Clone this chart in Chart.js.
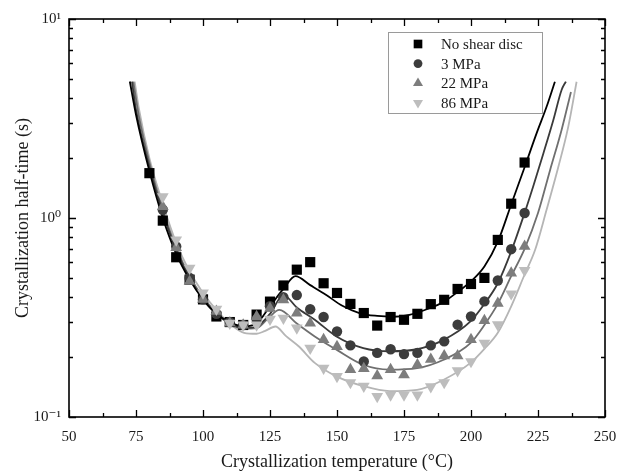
<!DOCTYPE html>
<html><head><meta charset="utf-8">
<script src="https://cdn.jsdelivr.net/npm/chart.js@4/dist/chart.umd.min.js"></script>
<style>html,body{margin:0;padding:0;background:#fff;}#wrap{width:618px;height:473px;position:relative;}</style>
</head><body><div id="wrap"><canvas id="c" width="618" height="473"></canvas></div>
<script>
// ---- data ----
const temps = [80,85,90,95,100,105,110,115,120,125,130,135,140,145,150,155,160,165,170,175,180,185,190,195,200,205,210,215,220];
const noShear = [1.68,0.97,0.635,0.49,0.39,0.32,0.30,0.29,0.327,0.38,0.458,0.55,0.60,0.47,0.42,0.37,0.333,0.288,0.318,0.308,0.33,0.369,0.388,0.44,0.466,0.50,0.776,1.18,1.9];
const mpa3 = [null,1.1,0.72,0.50,0.39,0.33,0.30,0.29,0.31,0.36,0.40,0.41,0.348,0.318,0.269,0.229,0.19,0.21,0.219,0.207,0.21,0.229,0.24,0.291,0.32,0.381,0.485,0.697,1.06];
const mpa22 = [null,1.14,0.71,0.48,0.39,0.34,0.296,0.29,0.32,0.352,0.388,0.333,0.296,0.245,0.226,0.173,0.175,0.161,0.173,0.163,0.183,0.195,0.203,0.203,0.245,0.305,0.373,0.529,0.72];
const mpa86 = [null,1.28,0.776,0.56,0.42,0.348,0.296,0.29,0.29,0.31,0.314,0.28,0.222,0.176,0.16,0.149,0.143,0.127,0.129,0.129,0.129,0.142,0.149,0.171,0.19,0.235,0.291,0.416,0.545];

const fitNoneT = [72.7,75,80,85,90,95,100,105,110,115,120,125,130,134.5,140,146,152,158.6,165,171,177,183.5,190,195,200,205,210,215,220,224.5,228.2,231.3];
const fitNoneY = [4.85,3.3,1.72,1.0,0.66,0.49,0.39,0.33,0.30,0.285,0.295,0.36,0.44,0.51,0.46,0.41,0.362,0.332,0.322,0.319,0.326,0.348,0.38,0.425,0.48,0.57,0.76,1.17,1.8,2.67,3.62,4.84];
const fit3T = [73.5,75,80,85,90,95,100,105,110,115,120,125,130,135,141.7,149.8,159.8,169.6,179.9,189.8,199.8,205,210,215,220,223.2,227,230.7,233.8,235.4];
const fit3Y = [4.85,3.5,1.8,1.06,0.69,0.50,0.39,0.33,0.295,0.28,0.285,0.33,0.41,0.355,0.308,0.254,0.222,0.214,0.219,0.244,0.302,0.37,0.47,0.68,1.06,1.44,2.11,3.1,4.4,4.85];
const fit22T = [74,76,80,85,90,95,100,105,110,115,120,124,128.5,135,141.7,149.8,159.8,169.6,179.9,189.8,199.8,205,210,215,220,225,229.5,233.8,237.3];
const fit22Y = [4.85,3.3,1.9,1.1,0.71,0.51,0.40,0.335,0.295,0.278,0.28,0.31,0.345,0.295,0.254,0.218,0.183,0.173,0.176,0.194,0.235,0.29,0.37,0.51,0.70,1.06,1.74,2.77,4.3];
const fit86T = [74.5,76,80,85,90,95,100,105,110,115.3,120,123,127,131,135.8,141.7,149.8,159.8,169.6,179.9,189.8,199.8,205,210,215,220,223.9,228.2,232.6,236.3,239.4];
const fit86Y = [4.85,3.6,2.0,1.18,0.75,0.54,0.42,0.345,0.295,0.265,0.262,0.27,0.285,0.255,0.226,0.187,0.16,0.143,0.135,0.137,0.154,0.187,0.22,0.265,0.36,0.52,0.69,1.1,1.81,2.88,4.84];

const seriesLabels = ['No shear disc','3 MPa','22 MPa','86 MPa'];
const xTickValues = [50,75,100,125,150,175,200,225,250];
const yTickValues = [0.1,0.2,0.3,0.4,0.5,0.6,0.7,0.8,0.9,1,2,3,4,5,6,7,8,9,10];
const yTickLabels = {0.1:'10\u207B\u00B9', 1:'10\u2070', 10:'10\u00B9'};

// ---- styles ----
const markerColors = ['#000000','#3c3c3c','#7d7d7d','#bdbdbd'];
const lineColors = ['#000000','#3a3a3a','#6f6f6f','#b5b5b5'];
const markerStyles = [
  {pointStyle:'rect', radius:7.2, rotation:0},
  {pointStyle:'circle', radius:5.2, rotation:0},
  {pointStyle:'triangle', radius:6.8, rotation:0},
  {pointStyle:'triangle', radius:6.8, rotation:180}
];

const pts = (xs, ys) => xs.map((x,i)=>({x:x,y:ys[i]})).filter(p=>p.y!==null);
const scatterSets = [noShear, mpa3, mpa22, mpa86];
const fitSets = [[fitNoneT,fitNoneY],[fit3T,fit3Y],[fit22T,fit22Y],[fit86T,fit86Y]];

const datasets = [];
fitSets.forEach((f,i)=>{
  datasets.push({label:seriesLabels[i]+' fit', data:pts(f[0],f[1]), showLine:true, pointRadius:0,
    borderColor:lineColors[i], borderWidth:1.8, cubicInterpolationMode:'monotone', fill:false, order:20+i});
});
scatterSets.forEach((s,i)=>{
  const m = markerStyles[i];
  datasets.push({label:seriesLabels[i], data:pts(temps,s), showLine:false,
    pointStyle:m.pointStyle, pointRadius:m.radius, pointRotation:m.rotation,
    backgroundColor:markerColors[i], borderColor:markerColors[i], borderWidth:0, order:4-i});
});

function drawMarker(ctx, style, r, rot, x, y){
  ctx.beginPath();
  if(style==='rect'){ const s=Math.SQRT1_2*r; ctx.rect(x-s,y-s,2*s,2*s); }
  else if(style==='circle'){ ctx.arc(x,y,r,0,Math.PI*2); }
  else { let a=rot*Math.PI/180; for(let k=0;k<3;k++){ const px=x+Math.sin(a)*r, py=y-Math.cos(a)*r; if(k===0)ctx.moveTo(px,py); else ctx.lineTo(px,py); a+=2*Math.PI/3; } ctx.closePath(); }
  ctx.fill();
}

const framePlugin = {
  id:'frame',
  afterDatasetsDraw(chart){
    const {ctx, chartArea:a, scales:{x,y}} = chart;
    ctx.save();
    ctx.strokeStyle='#000';
    ctx.lineWidth=1.3;
    xTickValues.forEach((v,i)=>{
      const px = Math.round(x.getPixelForValue(v))+0.5;
      ctx.beginPath();
      ctx.moveTo(px,a.bottom); ctx.lineTo(px,a.bottom-7);
      ctx.moveTo(px,a.top); ctx.lineTo(px,a.top+7);
      ctx.stroke();
      if(i<xTickValues.length-1){
        const pm = Math.round(x.getPixelForValue((v+xTickValues[i+1])/2))+0.5;
        ctx.beginPath();
        ctx.moveTo(pm,a.bottom); ctx.lineTo(pm,a.bottom-4);
        ctx.moveTo(pm,a.top); ctx.lineTo(pm,a.top+4);
        ctx.stroke();
      }
    });
    yTickValues.forEach(v=>{
      const py = Math.round(y.getPixelForValue(v))+0.5;
      const len = (v in yTickLabels) ? 7 : 4;
      ctx.beginPath();
      ctx.moveTo(a.left,py); ctx.lineTo(a.left+len,py);
      ctx.moveTo(a.right,py); ctx.lineTo(a.right-len,py);
      ctx.stroke();
    });
    ctx.lineWidth=1.6;
    ctx.strokeRect(a.left, a.top, a.right-a.left, a.bottom-a.top);
    // legend box
    const bx=a.left+319, by=a.top+13, bw=154, bh=81;
    ctx.fillStyle='#fff'; ctx.fillRect(bx,by,bw,bh);
    ctx.lineWidth=1; ctx.strokeStyle='#9a9a9a';
    ctx.strokeRect(bx+0.5,by+0.5,bw,bh);
    ctx.font='15px "Liberation Serif", serif';
    ctx.textBaseline='middle'; ctx.textAlign='left';
    seriesLabels.forEach((lab,i)=>{
      const ry = by+12+i*19.6;
      const m = markerStyles[i];
      ctx.fillStyle=markerColors[i];
      drawMarker(ctx, m.pointStyle, m.radius*0.85, m.rotation, bx+30, ry);
      ctx.fillStyle='#1a1a1a';
      ctx.fillText(lab, bx+53, ry+1);
    });
    ctx.restore();
  }
};

Chart.defaults.font.family = '"Liberation Serif", "DejaVu Serif", serif';
Chart.defaults.color = '#1a1a1a';

new Chart(document.getElementById('c'), {
  type:'scatter',
  data:{datasets:datasets},
  options:{
    responsive:false, devicePixelRatio:1, animation:false, events:[],
    layout:{padding:{top:19,right:13,left:0,bottom:0}},
    plugins:{legend:{display:false}, tooltip:{enabled:false}},
    scales:{
      x:{type:'linear', min:50, max:250,
        afterBuildTicks(s){ s.ticks = xTickValues.map(v=>({value:v})); },
        afterFit(s){ s.height = 56; s.paddingLeft = 0; s.paddingRight = 0; },
        grid:{display:false, drawTicks:false}, border:{display:false},
        ticks:{autoSkip:false, maxRotation:0, padding:11, font:{size:15}, color:'#1a1a1a'},
        title:{display:true, text:'Crystallization temperature (\u00B0C)', font:{size:18}, color:'#1a1a1a', padding:{top:0,bottom:0}}
      },
      y:{type:'logarithmic', min:0.1, max:10,
        afterBuildTicks(s){ s.ticks = yTickValues.map(v=>({value:v})); },
        afterFit(s){ s.width = 69; s.paddingTop = 0; s.paddingBottom = 0; },
        grid:{display:false, drawTicks:false}, border:{display:false},
        ticks:{autoSkip:false, padding:8, font:{size:15}, color:'#1a1a1a',
          callback(v){ return yTickLabels[v] !== undefined ? yTickLabels[v] : ''; }},
        title:{display:true, text:'Crystallization half-time (s)', font:{size:18}, color:'#1a1a1a', padding:{top:12,bottom:0}}
      }
    }
  },
  plugins:[framePlugin]
});
</script>
</body></html>
